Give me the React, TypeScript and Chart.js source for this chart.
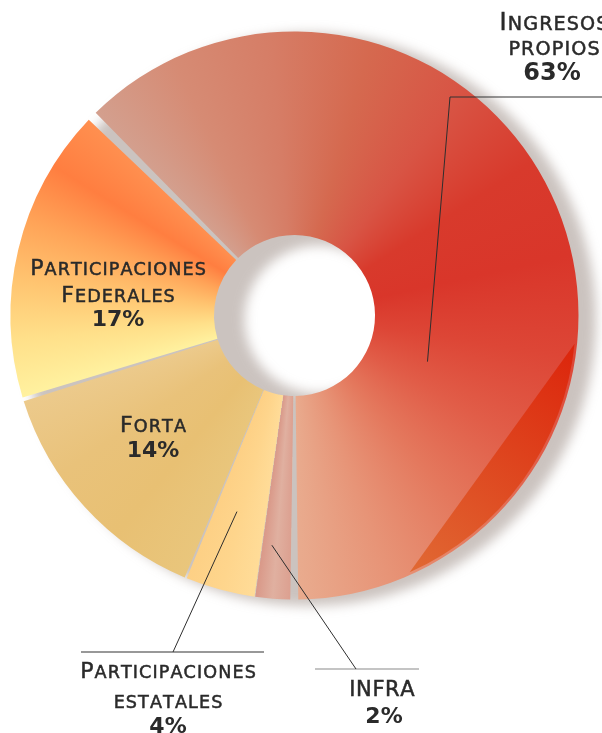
import { useEffect, useRef } from 'react';
import { Chart, registerables } from 'chart.js';

Chart.register(...registerables);

// ---- data ----
const categories = ['Ingresos propios', 'INFRA', 'Participaciones estatales', 'Forta', 'Participaciones Federales'];
const shares = [63, 2, 4, 14, 17];
const shareLabels = ['63%', '2%', '4%', '14%', '17%'];
const titleLines = [
  ['Ingresos', 'propios'],
  ['INFRA'],
  ['Participaciones', 'estatales'],
  ['Forta'],
  ['Participaciones', 'Federales'],
];

// ---- style ----
const segColors = [
  ['#d3a190', '#d68b74', '#d67d66', '#d5694f', '#d85444', '#d83a2c', '#d9362a', '#dd4636', '#e15d48', '#e4785d', '#e79477', '#e9ad90'],
  ['#dca090', '#e0b0a0', '#d99888'],
  ['#ffdc98', '#fed58c', '#fdd085'],
  ['#e9c67c', '#e8c073', '#e9c27a', '#ecca8c'],
  ['#fff2a0', '#ffe08a', '#ffc470', '#ffa458', '#ff7e40', '#ff9050'],
];
const ROTATION = -46;
const FONT = '"DejaVu Sans", sans-serif';
const TEXT = '#2a2a2a';

// label layout (page px): center x, baselines for title lines + pct
const labelLayout = [
  { cx: 554, base: [30, 55], pctBase: 80, pctCx: 552 },
  { cx: 382, base: [696], pctBase: 723, pctCx: 384 },
  { cx: 168, base: [678, 708], pctBase: 733, pctCx: 168 },
  { cx: 153, base: [432], pctBase: 457, pctCx: 153 },
  { cx: 118, base: [275, 302], pctBase: 326, pctCx: 118 },
];
// leaders: anchor on arc (fraction of angle span, fraction of outer radius), elbow point, horizontal line
const leaders: Record<number, any> = {
  0: { f: 0.684, rf: 0.5, elbow: [450, 97], hx: [450, 602], hy: 97, hcol: '#333' },
  1: { f: 0.67, rf: 0.82, elbow: [356, 669], hx: [315, 419], hy: 669, hcol: '#8a8a8a' },
  2: { f: 0.58, rf: 0.726, elbow: [173, 652], hx: [81, 264], hy: 652, hcol: '#333' },
};
// decorative facet on the first segment: fraction of its angular span
const facet = { from: 0.625, to: 0.89, c1: '#dc2208', c2: '#e0662e' };

function drawSmallCaps(ctx: CanvasRenderingContext2D, text: string, cx: number, y: number, size: number, ratio: number, ls: number) {
  const pieces: { ch: string; sz: number; w: number }[] = [];
  for (const ch of text) {
    const isUpper = ch === ch.toUpperCase() && ch !== ch.toLowerCase();
    pieces.push({ ch: ch.toUpperCase(), sz: isUpper ? size : size * ratio, w: 0 });
  }
  let w = 0;
  for (const p of pieces) {
    ctx.font = `${p.sz}px ${FONT}`;
    p.w = ctx.measureText(p.ch).width;
    w += p.w;
  }
  w += ls * (pieces.length - 1);
  let x = cx - w / 2;
  ctx.textAlign = 'left';
  ctx.textBaseline = 'alphabetic';
  ctx.lineWidth = 0.5;
  ctx.strokeStyle = TEXT;
  for (const p of pieces) {
    ctx.font = `${p.sz}px ${FONT}`;
    ctx.fillText(p.ch, x, y);
    ctx.strokeText(p.ch, x, y);
    x += p.w + ls;
  }
}

function ringGradient(chart: any) {
  const area = chart.chartArea;
  if (!area) return '#d85040';
  const cx = (area.left + area.right) / 2;
  const cy = (area.top + area.bottom) / 2;
  const start = ((ROTATION - 90) * Math.PI) / 180;
  const g = chart.ctx.createConicGradient(start, cx, cy);
  const total = shares.reduce((a, b) => a + b, 0);
  let acc = 0;
  shares.forEach((v, i) => {
    const s = acc / total;
    const e = (acc + v) / total;
    const cols = segColors[i];
    cols.forEach((c, k) => {
      const off = s + ((e - s) * k) / (cols.length - 1);
      g.addColorStop(Math.min(1, Math.max(0, off)), c);
    });
    acc += v;
  });
  return g;
}

const shadowPlugin = {
  id: 'ringShadow',
  beforeDatasetsDraw(chart: any) {
    const meta = chart.getDatasetMeta(0);
    const a = meta.data[0];
    if (!a) return;
    const { x, y, outerRadius: R, innerRadius: r } = a;
    const ctx = chart.ctx as CanvasRenderingContext2D;
    ctx.save();
    ctx.filter = 'blur(6px)';
    ctx.fillStyle = 'rgba(140,122,112,0.45)';
    ctx.beginPath();
    ctx.arc(x + 15, y + 4, R + 5, 0, Math.PI * 2);
    ctx.moveTo(x + 24 + r - 4, y + 4);
    ctx.arc(x + 24, y + 4, r - 4, 0, Math.PI * 2, true);
    ctx.fill('evenodd');
    ctx.restore();
  },
};

const labelPlugin = {
  id: 'ringLabels',
  afterDatasetsDraw(chart: any) {
    const ctx = chart.ctx as CanvasRenderingContext2D;
    const meta = chart.getDatasetMeta(0);
    ctx.save();
    // facet on first arc
    const a0 = meta.data[0];
    if (a0) {
      const span = a0.endAngle - a0.startAngle;
      const t1 = a0.startAngle + facet.from * span;
      const t2 = a0.startAngle + facet.to * span;
      const R = a0.outerRadius;
      const p1 = [a0.x + Math.cos(t1) * R, a0.y + Math.sin(t1) * R];
      const p2 = [a0.x + Math.cos(t2) * R, a0.y + Math.sin(t2) * R];
      const lg = ctx.createLinearGradient(p1[0], p1[1], p2[0], p2[1]);
      lg.addColorStop(0, facet.c1);
      lg.addColorStop(1, facet.c2);
      ctx.fillStyle = lg;
      ctx.globalAlpha = 0.92;
      ctx.beginPath();
      ctx.arc(a0.x, a0.y, R, t1, t2);
      ctx.closePath();
      ctx.fill();
      ctx.globalAlpha = 1;
    }
    // leader lines
    Object.keys(leaders).forEach((key) => {
      const i = Number(key);
      const L = leaders[i];
      const arc = meta.data[i];
      if (!arc) return;
      const ang = arc.startAngle + L.f * (arc.endAngle - arc.startAngle);
      const ax = arc.x + Math.cos(ang) * arc.outerRadius * L.rf;
      const ay = arc.y + Math.sin(ang) * arc.outerRadius * L.rf;
      ctx.lineWidth = 1.2;
      ctx.strokeStyle = L.hcol;
      ctx.beginPath();
      ctx.moveTo(L.hx[0], L.hy);
      ctx.lineTo(L.hx[1], L.hy);
      ctx.stroke();
      ctx.strokeStyle = '#2e2e2e';
      ctx.lineWidth = 1;
      ctx.beginPath();
      ctx.moveTo(L.elbow[0], L.elbow[1]);
      ctx.lineTo(ax, ay);
      ctx.stroke();
    });
    // texts
    ctx.fillStyle = TEXT;
    categories.forEach((_, i) => {
      const lay = labelLayout[i];
      titleLines[i].forEach((t, k) => {
        if (t === t.toUpperCase()) {
          drawSmallCaps(ctx, t, lay.cx, lay.base[k], 21, 1, 0.6);
        } else {
          drawSmallCaps(ctx, t, lay.cx, lay.base[k], i === 0 ? 24 : 22, 0.8, 1.1);
        }
      });
      ctx.font = `bold ${i === 0 ? 24 : 22}px ${FONT}`;
      ctx.textAlign = 'center';
      ctx.textBaseline = 'alphabetic';
      ctx.fillText(shareLabels[i], lay.pctCx, lay.pctBase);
    });
    ctx.restore();
  },
};

export default function App() {
  const ref = useRef<HTMLCanvasElement | null>(null);
  useEffect(() => {
    document.body.style.margin = '0';
    const canvas = ref.current;
    if (!canvas) return;
    const chart = new Chart(canvas, {
      type: 'doughnut',
      data: {
        labels: categories,
        datasets: [
          {
            data: shares,
            backgroundColor: (c: any) => ringGradient(c.chart),
            borderWidth: 0,
            spacing: 5,
          } as any,
        ],
      },
      options: {
        responsive: false,
        animation: false,
        rotation: ROTATION,
        cutout: 78,
        layout: { padding: { left: 10.5, top: 31.5, right: 23.5, bottom: 133.5 } },
        plugins: { legend: { display: false }, tooltip: { enabled: false } },
      } as any,
      plugins: [shadowPlugin, labelPlugin],
    });
    return () => chart.destroy();
  }, []);
  return (
    <div style={{ width: 602, height: 733, overflow: 'hidden' }}>
      <canvas ref={ref} width={602} height={733} style={{ display: 'block', width: 602, height: 733 }} />
    </div>
  );
}
